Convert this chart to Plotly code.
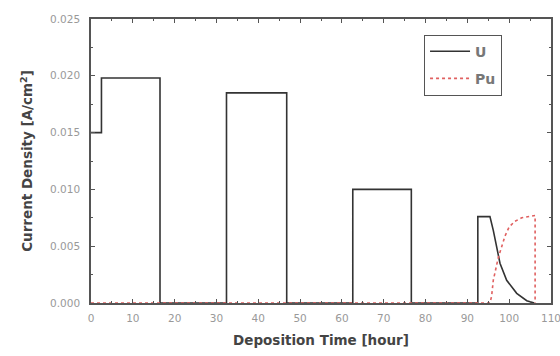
import plotly.graph_objects as go

# U current density (step profile + decay at the end)
u_time = [0, 2.5, 2.5, 16.5, 16.5, 32.4, 32.4, 46.8, 46.8, 62.6, 62.6, 76.6, 76.6,
          92.5, 92.5, 95.4, 96.2, 97.0, 97.8, 99.4, 101.8, 104.2, 106.0]
u_density = [0.015, 0.015, 0.0198, 0.0198, 0, 0, 0.0185, 0.0185, 0, 0, 0.0100, 0.0100, 0,
             0, 0.0076, 0.0076, 0.0064, 0.0050, 0.0035, 0.0020, 0.00085, 0.0002, 0]

# Pu current density
pu_time = [0, 95.4, 95.8, 96.2, 97.4, 99.0, 100.0, 101.4, 103.0, 104.5, 106.2, 106.2]
pu_density = [0, 0, 0.0006, 0.0020, 0.0040, 0.0059, 0.0067, 0.0072, 0.0075, 0.0076, 0.0077, 0]

x_ticks = [0, 10, 20, 30, 40, 50, 60, 70, 80, 90, 100, 110]
y_ticks = [0.000, 0.005, 0.010, 0.015, 0.020, 0.025]

fig = go.Figure()
fig.add_trace(go.Scatter(x=u_time, y=u_density, mode="lines", name="U", legendgroup="u",
                         line=dict(color="#333333", width=1.6)))
fig.add_trace(go.Scatter(x=pu_time, y=pu_density, mode="lines", name="Pu", legendgroup="pu",
                         line=dict(color="#e06060", width=1.6, dash="3px,3px")))

axis_common = dict(
    showline=True, linecolor="#555555", linewidth=1.5, mirror="ticks",
    ticks="inside", ticklen=4, tickcolor="#555555", tickwidth=1,
    showgrid=False, zeroline=False, automargin=False, ticklabeloverflow="allow",
    tickfont=dict(family="DejaVu Sans", size=10.5, color="#999999"),
)

title_font = dict(family="DejaVu Sans", size=13.5, color="#444444")

fig.update_xaxes(range=[0, 110], tickvals=x_ticks, ticktext=[str(t) for t in x_ticks],
                 minor=dict(ticks="inside", ticklen=2.5, tickcolor="#555555", dtick=5),
                 ticklabelstandoff=5,
                 title=dict(text="<b>Deposition Time [hour]</b>", standoff=12, font=title_font),
                 **axis_common)
fig.update_yaxes(range=[0, 0.025], tickvals=y_ticks, ticktext=[f"{t:.3f}" for t in y_ticks],
                 minor=dict(ticks="inside", ticklen=2.5, tickcolor="#555555", dtick=0.0025),
                 ticklabelstandoff=7,
                 title=dict(text="<b>Current Density [A/cm<sup>2</sup>]</b>", standoff=14,
                            font=title_font),
                 **axis_common)

fig.update_layout(
    width=560, height=356,
    margin=dict(l=91, r=9, t=19, b=53),
    paper_bgcolor="white", plot_bgcolor="white",
    showlegend=True,
    legend=dict(x=0.724, y=0.945, xanchor="left", yanchor="top",
                bgcolor="white", bordercolor="#555555", borderwidth=1,
                font=dict(family="DejaVu Sans", size=14, color="#777777", weight="bold"),
                tracegroupgap=6, itemwidth=40),
)

fig.write_html("out.html")
